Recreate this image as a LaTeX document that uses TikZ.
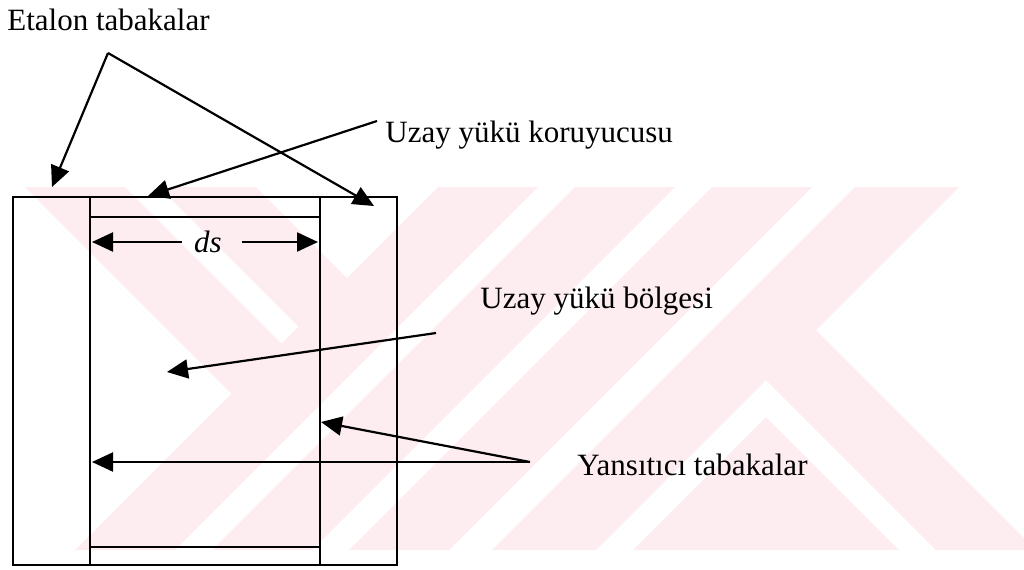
\documentclass[tikz,border=0pt]{standalone}
\usepackage{fontspec}
\setmainfont{Liberation Serif}
\usetikzlibrary{arrows.meta}
\definecolor{wm}{RGB}{253,236,240}
\begin{document}
\begin{tikzpicture}[x=0.5pt,y=-0.5pt,
  lbl/.style={anchor=base west,inner sep=0pt,font=\fontsize{15.5}{18}\selectfont},
  frame/.style={line width=1.2pt,black},
  conn/.style={line width=1.1pt,-{Triangle[length=10.5pt,width=9.5pt]}},
  band/.style={fill=wm,draw=none}]
\useasboundingbox (0,0) rectangle (1024,569);
% faint watermark
\begin{scope}
\clip (15,187) rectangle (1024,550);
\fill[band] (438,187)--(538,187)--(175,550)--(75,550)--cycle;
\fill[band] (575,187)--(675,187)--(312,550)--(212,550)--cycle;
\fill[band] (712,187)--(812,187)--(449,550)--(349,550)--cycle;
\fill[band] (855,187)--(959,187)--(596,550)--(492,550)--cycle;
\fill[band] (25,187)--(125,187)--(306.5,368.5)--(256.5,418.5)--cycle;
\fill[band] (159,187)--(256,187)--(372,303)--(323.5,351.5)--cycle;
\fill[band] (790,304)--(740,354)--(936,550)--(1036,550)--cycle;
\fill[band] (766,417)--(633,550)--(899,550)--cycle;
\end{scope}
% frame
\coordinate (oTL) at (13,197);
\coordinate (oBR) at (397,565);
\draw[frame] (oTL) rectangle (oBR);
\coordinate (iLt) at (90,197);  \coordinate (iLb) at (90,565);
\coordinate (iRt) at (320,197); \coordinate (iRb) at (320,565);
\draw[frame] (iLt) -- (iLb);
\draw[frame] (iRt) -- (iRb);
\coordinate (hTl) at (90,217); \coordinate (hTr) at (320,217);
\coordinate (hBl) at (90,547); \coordinate (hBr) at (320,547);
\draw[frame] (hTl) -- (hTr);
\draw[frame] (hBl) -- (hBr);
% labels
\node[lbl] (etalon) at (7,30) {Etalon tabakalar};
\node[lbl] (koruyucu) at (385,142) {Uzay yükü koruyucusu};
\node[lbl] (bolge) at (480,308) {Uzay yükü bölgesi};
\node[lbl] (yansitici) at (577,475) {Yansıtıcı tabakalar};
\node[anchor=base,inner sep=0pt,font=\fontsize{15.5}{18}\selectfont\itshape] (ds) at (208,252) {ds};
% etalon arrows
\coordinate (ea) at (108,53);
\coordinate (eL) at (52,187);
\coordinate (eR) at (374,206);
\draw[conn] (ea) -- (eL);
\draw[conn] (ea) -- (eR);
% koruyucu arrow
\coordinate (ks) at (377,121);
\coordinate (kt) at (148,196);
\draw[conn] (ks) -- (kt);
% bolge arrow
\coordinate (bs) at (436,333);
\coordinate (bt) at (167,372);
\draw[conn] (bs) -- (bt);
% yansitici arrows
\coordinate (ya) at (530,462);
\coordinate (yt1) at (321,422);
\coordinate (yt2) at (92,462);
\draw[conn] (ya) -- (yt1);
\draw[conn] (ya) -- (yt2);
% ds arrows
\coordinate (dsl) at (182,242);
\coordinate (dslt) at (92,242);
\coordinate (dsr) at (242,242);
\coordinate (dsrt) at (318,242);
\draw[conn] (dsl) -- (dslt);
\draw[conn] (dsr) -- (dsrt);
\end{tikzpicture}
\end{document}
